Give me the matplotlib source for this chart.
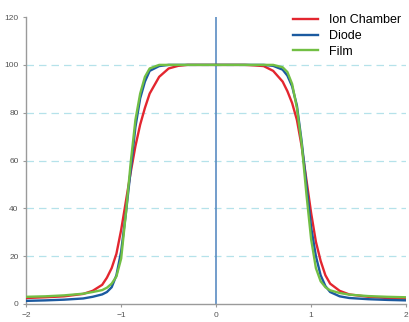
import matplotlib
import matplotlib.pyplot as plt
import numpy as np

# profile positions (cm) and relative dose (%)
x_pos = [-2.0, -1.8, -1.6, -1.4, -1.3, -1.2, -1.15, -1.1, -1.05, -1.0, -0.95, -0.9, -0.85, -0.8,
         -0.75, -0.7, -0.6, -0.5, -0.4, -0.3, 0.0, 0.3, 0.4, 0.5, 0.6, 0.7, 0.75, 0.8, 0.85,
         0.9, 0.95, 1.0, 1.05, 1.1, 1.15, 1.2, 1.3, 1.4, 1.6, 1.8, 2.0]
ion_chamber = [2.5, 2.8, 3.2, 4.2, 5.5, 8, 11, 15, 21, 31, 43, 55, 66, 75,
               82, 88, 95, 98.5, 99.6, 100, 100, 100, 99.8, 99.5, 97.5, 93, 89, 84, 77,
               66, 52, 38, 26, 18, 12, 8.5, 5.5, 4, 3, 2.5, 2.2]
diode = [1.3, 1.5, 1.8, 2.3, 3, 4, 5, 7, 12, 22, 38, 56, 74, 86,
         93, 97.5, 99.5, 100, 100, 100, 100, 100, 100, 100, 99.6, 98, 95.5, 91, 83,
         68, 50, 32, 20, 12, 7.5, 5, 3.2, 2.5, 2, 1.7, 1.5]
film = [3, 3.2, 3.6, 4.3, 5, 5.8, 6.8, 8.5, 11.5, 19, 38, 59, 77, 88,
        95, 98.5, 100, 100, 100, 100, 100, 100, 100, 100, 100, 99, 97, 92, 82,
        67, 46, 27, 15, 9.5, 7, 5.7, 4.6, 3.9, 3.3, 3, 2.8]

x_ticks = [-2, -1, 0, 1, 2]
y_ticks = [0, 20, 40, 60, 80, 100, 120]

# constants
red = '#e3262f'
blue = '#1b5aa0'
green = '#72bf44'
axis_grey = '#9a9a9a'
grid_color = '#b5e2ea'
matplotlib.rcParams.update({'font.family': 'Liberation Sans'})

fig = plt.figure(figsize=(4.09, 3.22), dpi=100)
ax = fig.add_axes([0.064, 0.056, 0.929, 0.891])

for yv in y_ticks[1:-1]:
    ax.axhline(yv, color=grid_color, linestyle=(0, (6, 4)), linewidth=0.9, zorder=1)
ax.axvline(0, color='#5a8cc2', linewidth=1.2, zorder=2)

ax.plot(x_pos, ion_chamber, color=red, linewidth=1.7, label='Ion Chamber', zorder=3)
ax.plot(x_pos, diode, color=blue, linewidth=1.7, label='Diode', zorder=4)
ax.plot(x_pos, film, color=green, linewidth=1.7, label='Film', zorder=5)

ax.set_xlim(-2, 2)
ax.set_ylim(0, 120)
ax.set_xticks(x_ticks)
ax.set_yticks(y_ticks)
ax.tick_params(labelsize=6, labelcolor='#555555', color=axis_grey, length=2, width=0.8)
for side in ['top', 'right']:
    ax.spines[side].set_visible(False)
for side in ['left', 'bottom']:
    ax.spines[side].set_color(axis_grey)
    ax.spines[side].set_linewidth(1.0)

ax.legend(loc='upper right', bbox_to_anchor=(1.01, 1.04), frameon=False, fontsize=9,
          handlelength=2.0, handletextpad=0.9, labelspacing=0.3, borderpad=0.2)

plt.savefig('out.png', dpi=100)
